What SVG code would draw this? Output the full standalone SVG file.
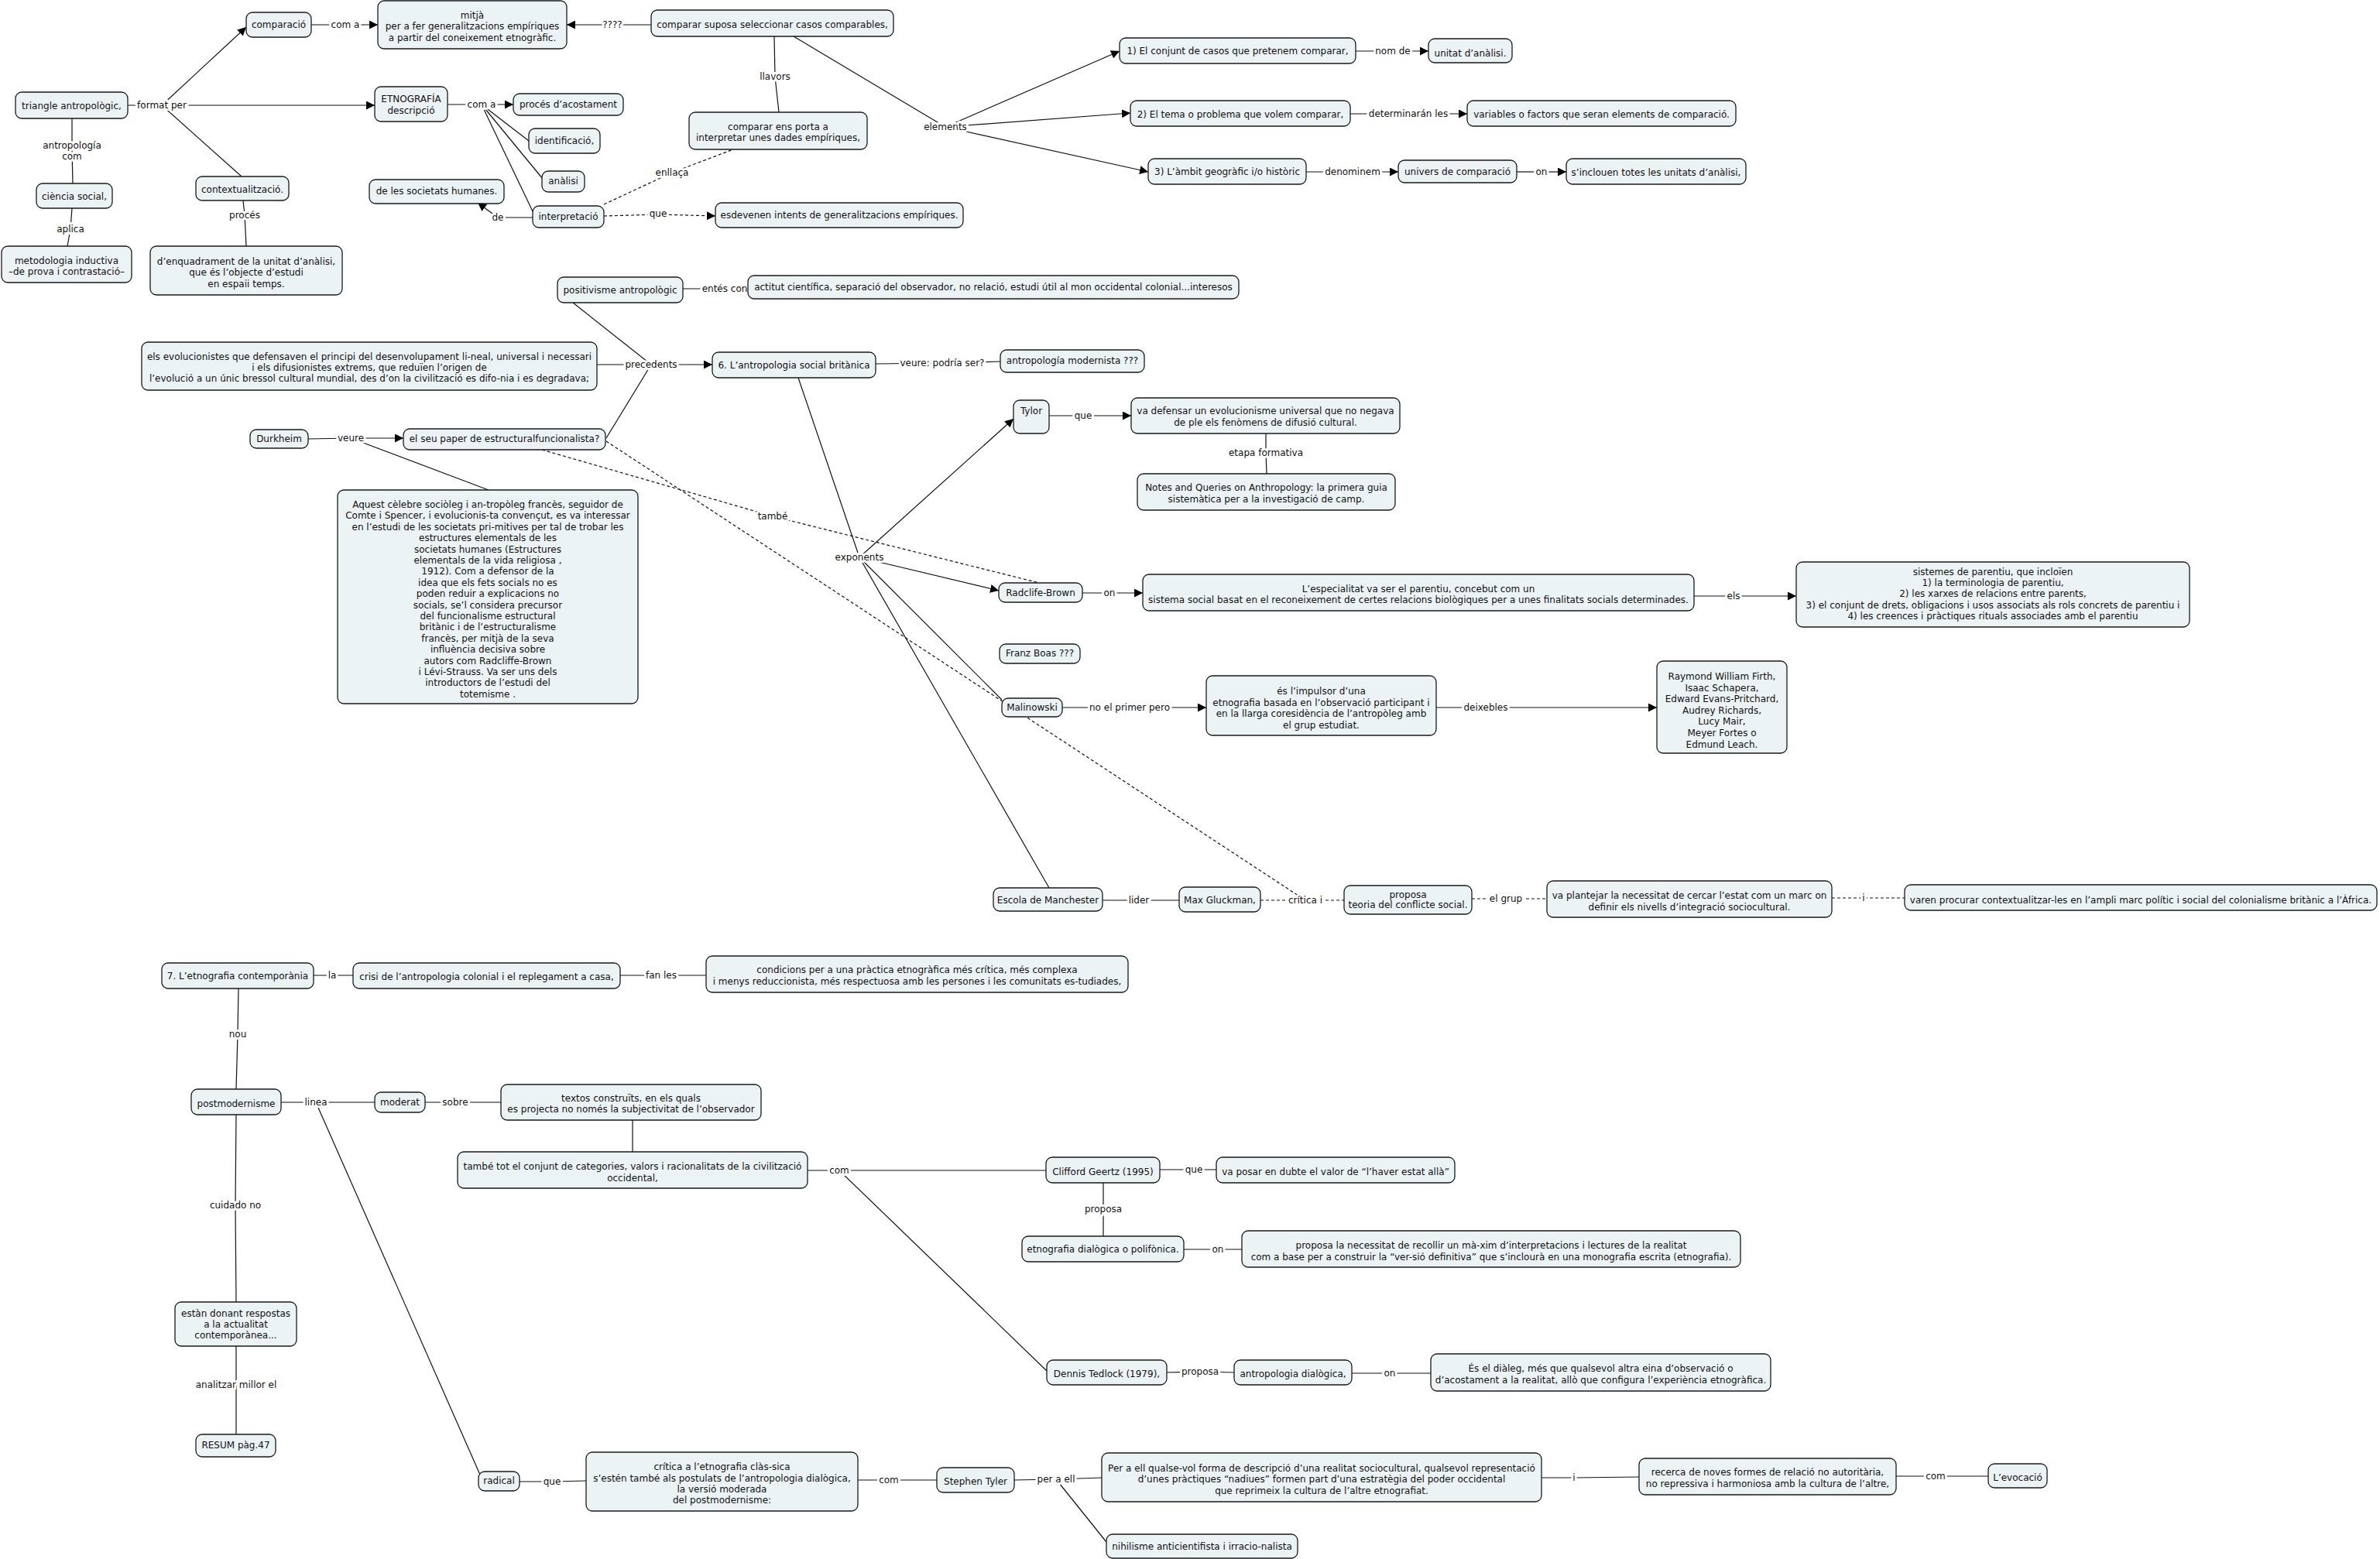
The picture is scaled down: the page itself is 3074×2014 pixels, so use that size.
<svg xmlns="http://www.w3.org/2000/svg" width="3074" height="2014" viewBox="0 0 3074 2014">
<defs>
<style>
text{font-family:"DejaVu Sans",Verdana,sans-serif;font-size:12px;fill:#111}
.n rect{fill:#ecf3f5;stroke:#1a1a1a;stroke-width:1.3}
.n text{text-anchor:middle}
.c path{stroke:#111;stroke-width:1.2;fill:none}
.c path.d{stroke-dasharray:4 3}
.c path.a{marker-end:url(#ar)}
.c text{text-anchor:middle;paint-order:stroke;stroke:#fff;stroke-width:6px;stroke-linejoin:round}
</style>
<marker id="ar" viewBox="0 0 10 10" refX="10" refY="5" markerWidth="11" markerHeight="11" markerUnits="userSpaceOnUse" orient="auto"><path d="M0,0 L10,5 L0,10 z" fill="#000"/></marker>
</defs>
<rect width="3074" height="2014" fill="#fff"/>
<g id="connectors" class="c">
<path d="M165,136 L209,136"/>
<path class="a" d="M209,136 L318,35"/>
<path class="a" d="M209,136 L484,136"/>
<path d="M209,136 L312,228"/>
<path d="M93,153 L93,195 L94,237"/>
<path d="M93,269 L91,296 L87,318"/>
<path d="M314,259 L316,278 L318,318"/>
<path d="M402,32 L446,32"/><path class="a" d="M446,32 L488,32"/>
<path d="M841,32 L791,32"/><path class="a" d="M791,32 L732,32"/>
<path d="M578,135 L622,135"/><path class="a" d="M622,135 L663,135"/>
<path d="M622,135 L683,182"/><path d="M622,135 L701,231"/><path d="M622,135 L688,273"/>
<path d="M688,281 L643,281"/><path class="a" d="M643,281 L617,262"/>
<path d="M1000,47 L1001,99 L1006,145"/>
<path d="M1025,47 L1221,164"/>
<path class="a" d="M1221,164 L1446,66"/><path class="a" d="M1221,164 L1460,146"/><path class="a" d="M1221,164 L1483,222"/>
<path class="d" d="M780,264 L868,223 L947,193"/>
<path class="d" d="M780,279 L850,277"/><path class="d a" d="M850,277 L924,279"/>
<path d="M1751,66 L1799,66"/><path class="a" d="M1799,66 L1845,66"/>
<path d="M1744,147 L1819,147"/><path class="a" d="M1819,147 L1895,147"/>
<path d="M1687,222 L1747,222"/><path class="a" d="M1747,222 L1806,222"/>
<path d="M1959,222 L1991,222"/><path class="a" d="M1991,222 L2023,222"/>
<path d="M882,373 L936,373 L966,371"/>
<path d="M740,391 L841,471"/>
<path d="M771,471 L841,471"/>
<path d="M783,566 L841,471"/>
<path class="a" d="M841,471 L920,471"/>
<path d="M1131,470 L1217,469 L1292,467"/>
<path d="M398,567 L453,566"/><path class="a" d="M453,566 L521,566"/>
<path d="M453,566 L631,633"/>
<path class="d" d="M700,581 L998,667 L1342,753"/>
<path class="d" d="M783,570 L1686,1163"/>
<path d="M1031,488 L1110,720 L1355,1147"/>
<path class="a" d="M1110,720 L1309,541"/>
<path class="a" d="M1110,720 L1290,763"/>
<path d="M1110,720 L1294,904"/>
<path d="M1355,537 L1399,537"/><path class="a" d="M1399,537 L1461,537"/>
<path d="M1635,560 L1635,585 L1636,612"/>
<path d="M1398,766 L1433,766"/><path class="a" d="M1433,766 L1476,766"/>
<path d="M2188,770 L2239,770"/><path class="a" d="M2239,770 L2320,770"/>
<path d="M1372,914 L1459,914"/><path class="a" d="M1459,914 L1558,914"/>
<path d="M1855,914 L1919,914"/><path class="a" d="M1919,914 L2140,914"/>
<path d="M1424,1163 L1471,1163 L1523,1163"/>
<path class="d" d="M1628,1163 L1686,1163 L1736,1163"/>
<path class="d" d="M1901,1161 L1945,1161 L1998,1161"/>
<path class="d" d="M2366,1160 L2407,1160 L2460,1160"/>
<path d="M405,1260 L429,1260 L456,1260"/>
<path d="M801,1260 L854,1260 L912,1260"/>
<path d="M308,1277 L307,1336 L305,1407"/>
<path d="M363,1424 L408,1424 L484,1424"/>
<path d="M549,1424 L588,1424 L647,1424"/>
<path d="M817,1447 L817,1488"/>
<path d="M1043,1512 L1084,1512 L1351,1512"/>
<path d="M1084,1512 L1352,1771"/>
<path d="M1498,1511 L1542,1511 L1571,1511"/>
<path d="M1425,1528 L1425,1562 L1425,1597"/>
<path d="M1529,1614 L1573,1614 L1604,1614"/>
<path d="M1507,1773 L1550,1772 L1594,1773"/>
<path d="M1746,1774 L1795,1774 L1848,1774"/>
<path d="M305,1440 L304,1557 L305,1682"/>
<path d="M305,1739 L305,1789 L305,1853"/>
<path d="M408,1424 L620,1905"/>
<path d="M671,1914 L713,1914 L757,1913"/>
<path d="M1108,1912 L1148,1912 L1210,1912"/>
<path d="M1310,1912 L1364,1911 L1423,1909"/>
<path d="M1364,1911 L1429,1992"/>
<path d="M1991,1909 L2033,1909 L2117,1908"/>
<path d="M2449,1907 L2500,1907 L2568,1907"/>
<text x="209" y="140">format per</text>
<text x="93" y="192">antropología</text><text x="93" y="206">com</text>
<text x="91" y="300">aplica</text>
<text x="316" y="282">procés</text>
<text x="446" y="36">com a</text>
<text x="791" y="36">????</text>
<text x="622" y="139">com a</text>
<text x="643" y="285">de</text>
<text x="1001" y="103">llavors</text>
<text x="1221" y="168">elements</text>
<text x="868" y="227">enllaça</text>
<text x="850" y="280">que</text>
<text x="1799" y="70">nom de</text>
<text x="1819" y="151">determinarán les</text>
<text x="1747" y="226">denominem</text>
<text x="1991" y="226">on</text>
<text x="936" y="377">entés con</text>
<text x="841" y="475">precedents</text>
<text x="1217" y="473">veure: podría ser?</text>
<text x="453" y="570">veure</text>
<text x="998" y="671">també</text>
<text x="1110" y="724">exponents</text>
<text x="1399" y="541">que</text>
<text x="1635" y="589">etapa formativa</text>
<text x="1433" y="770">on</text>
<text x="2239" y="774">els</text>
<text x="1459" y="918">no el primer pero</text>
<text x="1919" y="918">deixebles</text>
<text x="1471" y="1167">lider</text>
<text x="1686" y="1167">crítica i</text>
<text x="1945" y="1165">el grup</text>
<text x="2407" y="1164">i</text>
<text x="429" y="1264">la</text>
<text x="854" y="1264">fan les</text>
<text x="307" y="1340">nou</text>
<text x="408" y="1428">linea</text>
<text x="588" y="1428">sobre</text>
<text x="1084" y="1516">com</text>
<text x="1542" y="1515">que</text>
<text x="1425" y="1566">proposa</text>
<text x="1573" y="1618">on</text>
<text x="1550" y="1776">proposa</text>
<text x="1795" y="1778">on</text>
<text x="304" y="1561">cuidado no</text>
<text x="305" y="1793">analitzar millor el</text>
<text x="713" y="1918">que</text>
<text x="1148" y="1916">com</text>
<text x="1364" y="1915">per a ell</text>
<text x="2033" y="1913">i</text>
<text x="2500" y="1911">com</text>
</g>
<g id="nodes" class="n">
<g id="n1"><rect x="318" y="16" width="84" height="32" rx="8"/><text x="360" y="36">comparació</text></g>
<g id="n2"><rect x="488" y="1" width="244" height="62" rx="8"/><text x="610" y="24">mitjà</text><text x="610" y="38">per a fer generalitzacions empíriques</text><text x="610" y="53">a partir del coneixement etnogràfic.</text></g>
<g id="n3"><rect x="20" y="119" width="145" height="34" rx="8"/><text x="92.5" y="141">triangle antropològic,</text></g>
<g id="n4"><rect x="484" y="112" width="94" height="45" rx="8"/><text x="531" y="132">ETNOGRAFÍA</text><text x="531" y="147">descripció</text></g>
<g id="n5"><rect x="663" y="121" width="142" height="28" rx="8"/><text x="734" y="139">procés d’acostament</text></g>
<g id="n6"><rect x="683" y="166" width="92" height="32" rx="8"/><text x="729" y="186">identificació,</text></g>
<g id="n7"><rect x="700" y="221" width="55" height="27" rx="8"/><text x="727.5" y="238">anàlisi</text></g>
<g id="n8"><rect x="477" y="232" width="174" height="31" rx="8"/><text x="564" y="251">de les societats humanes.</text></g>
<g id="n9"><rect x="688" y="266" width="92" height="28" rx="8"/><text x="734" y="284">interpretació</text></g>
<g id="n10"><rect x="2" y="318" width="168" height="47" rx="8"/><text x="86" y="341">metodologia inductiva</text><text x="86" y="355">–de prova i contrastació–</text></g>
<g id="n11"><rect x="47" y="237" width="98" height="32" rx="8"/><text x="96" y="258">ciència social,</text></g>
<g id="n12"><rect x="253" y="228" width="120" height="31" rx="8"/><text x="313" y="249">contextualització.</text></g>
<g id="n13"><rect x="194" y="318" width="248" height="63" rx="8"/><text x="318" y="342">d’enquadrament de la unitat d’anàlisi,</text><text x="318" y="356">que és l’objecte d’estudi</text><text x="318" y="371">en espaii temps.</text></g>
<g id="n14"><rect x="841" y="13" width="313" height="34" rx="8"/><text x="997.5" y="36">comparar suposa seleccionar casos comparables,</text></g>
<g id="n15"><rect x="890" y="145" width="230" height="48" rx="8"/><text x="1005" y="168">comparar ens porta a</text><text x="1005" y="182">interpretar unes dades empíriques,</text></g>
<g id="n16"><rect x="1446" y="49" width="305" height="33" rx="8"/><text x="1598.5" y="70">1) El conjunt de casos que pretenem comparar,</text></g>
<g id="n17"><rect x="1845" y="50" width="108" height="31" rx="8"/><text x="1899" y="73">unitat d’anàlisi.</text></g>
<g id="n18"><rect x="1460" y="130" width="284" height="33" rx="8"/><text x="1602" y="152">2) El tema o problema que volem comparar,</text></g>
<g id="n19"><rect x="1895" y="130" width="347" height="33" rx="8"/><text x="2068.5" y="152">variables o factors que seran elements de comparació.</text></g>
<g id="n20"><rect x="1483" y="205" width="204" height="33" rx="8"/><text x="1585" y="226">3) L’àmbit geogràfic i/o històric</text></g>
<g id="n21"><rect x="1806" y="207" width="153" height="29" rx="8"/><text x="1882.5" y="226">univers de comparació</text></g>
<g id="n22"><rect x="2023" y="205" width="232" height="33" rx="8"/><text x="2139" y="227">s’inclouen totes les unitats d’anàlisi,</text></g>
<g id="n23"><rect x="924" y="262" width="320" height="32" rx="8"/><text x="1084" y="282">esdevenen intents de generalitzacions empíriques.</text></g>
<g id="n24"><rect x="720" y="358" width="162" height="33" rx="8"/><text x="801" y="379">positivisme antropològic</text></g>
<g id="n25"><rect x="966" y="356" width="634" height="30" rx="8"/><text x="1283" y="375">actitut científica, separació del observador, no relació, estudi útil al mon occidental colonial...interesos</text></g>
<g id="n26"><rect x="183" y="442" width="588" height="62" rx="8"/><text x="477" y="465">els evolucionistes que defensaven el principi del desenvolupament li-neal, universal i necessari</text><text x="477" y="479">i els difusionistes extrems, que reduïen l’origen de</text><text x="477" y="493">l’evolució a un únic bressol cultural mundial, des d’on la civilització es difo-nia i es degradava;</text></g>
<g id="n27"><rect x="920" y="455" width="211" height="33" rx="8"/><text x="1025.5" y="476">6. L’antropologia social britànica</text></g>
<g id="n28"><rect x="1292" y="452" width="186" height="29" rx="8"/><text x="1385" y="470">antropología modernista ???</text></g>
<g id="n29"><rect x="323" y="555" width="75" height="24" rx="8"/><text x="360.5" y="571">Durkheim</text></g>
<g id="n30"><rect x="521" y="554" width="261" height="27" rx="8"/><text x="651.5" y="571">el seu paper de estructuralfuncionalista?</text></g>
<g id="n31"><rect x="436" y="633" width="388" height="276" rx="8"/>
<text x="630" y="656">Aquest cèlebre sociòleg i an-tropòleg francès, seguidor de</text>
<text x="630" y="670.4">Comte i Spencer, i evolucionis-ta convençut, es va interessar</text>
<text x="630" y="684.8">en l’estudi de les societats pri-mitives per tal de trobar les</text>
<text x="630" y="699.2">estructures elementals de les</text>
<text x="630" y="713.6">societats humanes (Estructures</text>
<text x="630" y="728">elementals de la vida religiosa ,</text>
<text x="630" y="742.4">1912). Com a defensor de la</text>
<text x="630" y="756.8">idea que els fets socials no es</text>
<text x="630" y="771.2">poden reduir a explicacions no</text>
<text x="630" y="785.6">socials, se’l considera precursor</text>
<text x="630" y="800">del funcionalisme estructural</text>
<text x="630" y="814.4">britànic i de l’estructuralisme</text>
<text x="630" y="828.8">francès, per mitjà de la seva</text>
<text x="630" y="843.2">influència decisiva sobre</text>
<text x="630" y="857.6">autors com Radcliffe-Brown</text>
<text x="630" y="872">i Lévi-Strauss. Va ser uns dels</text>
<text x="630" y="886.4">introductors de l’estudi del</text>
<text x="630" y="900.8">totemisme .</text></g>
<g id="n32"><rect x="1309" y="517" width="46" height="43" rx="8"/><text x="1332" y="535">Tylor</text></g>
<g id="n33"><rect x="1461" y="514" width="347" height="46" rx="8"/><text x="1634.5" y="535">va defensar un evolucionisme universal que no negava</text><text x="1634.5" y="550">de ple els fenòmens de difusió cultural.</text></g>
<g id="n34"><rect x="1469" y="612" width="333" height="47" rx="8"/><text x="1635.5" y="634">Notes and Queries on Anthropology: la primera guia</text><text x="1635.5" y="649">sistemàtica per a la investigació de camp.</text></g>
<g id="n35"><rect x="1290" y="753" width="108" height="25" rx="8"/><text x="1344" y="770">Radclife-Brown</text></g>
<g id="n36"><rect x="1476" y="742" width="712" height="47" rx="8"/><text x="1832" y="765">L’especialitat va ser el parentiu, concebut com un</text><text x="1832" y="779">sistema social basat en el reconeixement de certes relacions biològiques per a unes finalitats socials determinades.</text></g>
<g id="n37"><rect x="2320" y="726" width="508" height="84" rx="8"/><text x="2574" y="743">sistemes de parentiu, que incloïen</text><text x="2574" y="757">1) la terminologia de parentiu,</text><text x="2574" y="771">2) les xarxes de relacions entre parents,</text><text x="2574" y="786">3) el conjunt de drets, obligacions i usos associats als rols concrets de parentiu i</text><text x="2574" y="800">4) les creences i pràctiques rituals associades amb el parentiu</text></g>
<g id="n38"><rect x="1291" y="832" width="104" height="25" rx="8"/><text x="1343" y="848">Franz Boas ???</text></g>
<g id="n39"><rect x="1294" y="902" width="78" height="24" rx="8"/><text x="1333" y="918">Malinowski</text></g>
<g id="n40"><rect x="1558" y="873" width="297" height="77" rx="8"/><text x="1706.5" y="897">és l’impulsor d’una</text><text x="1706.5" y="912">etnografia basada en l’observació participant i</text><text x="1706.5" y="926">en la llarga coresidència de l’antropòleg amb</text><text x="1706.5" y="941">el grup estudiat.</text></g>
<g id="n41"><rect x="2140" y="854" width="168" height="119" rx="8"/><text x="2224" y="878">Raymond William Firth,</text><text x="2224" y="892.6">Isaac Schapera,</text><text x="2224" y="907.2">Edward Evans-Pritchard,</text><text x="2224" y="921.8">Audrey Richards,</text><text x="2224" y="936.4">Lucy Mair,</text><text x="2224" y="951">Meyer Fortes o</text><text x="2224" y="965.6">Edmund Leach.</text></g>
<g id="n42"><rect x="1283" y="1147" width="141" height="30" rx="8"/><text x="1353.5" y="1167">Escola de Manchester</text></g>
<g id="n43"><rect x="1523" y="1146" width="105" height="32" rx="8"/><text x="1575.5" y="1167">Max Gluckman,</text></g>
<g id="n44"><rect x="1736" y="1144" width="165" height="37" rx="8"/><text x="1818.5" y="1160">proposa</text><text x="1818.5" y="1173">teoria del conflicte social.</text></g>
<g id="n45"><rect x="1998" y="1138" width="368" height="47" rx="8"/><text x="2182" y="1161">va plantejar la necessitat de cercar l’estat com un marc on</text><text x="2182" y="1176">definir els nivells d’integració sociocultural.</text></g>
<g id="n46"><rect x="2460" y="1143" width="610" height="33" rx="8"/><text x="2765" y="1167">varen procurar contextualitzar-les en l’ampli marc polític i social del colonialisme britànic a l’Àfrica.</text></g>
<g id="n47"><rect x="209" y="1244" width="196" height="33" rx="8"/><text x="307" y="1265">7. L’etnografia contemporània</text></g>
<g id="n48"><rect x="456" y="1244" width="345" height="33" rx="8"/><text x="628.5" y="1266">crisi de l’antropologia colonial i el replegament a casa,</text></g>
<g id="n49"><rect x="912" y="1235" width="545" height="47" rx="8"/><text x="1184.5" y="1257">condicions per a una pràctica etnogràfica més crítica, més complexa</text><text x="1184.5" y="1272">i menys reduccionista, més respectuosa amb les persones i les comunitats es-tudiades,</text></g>
<g id="n50"><rect x="247" y="1407" width="116" height="33" rx="8"/><text x="305" y="1430">postmodernisme</text></g>
<g id="n51"><rect x="484" y="1411" width="65" height="26" rx="8"/><text x="516.5" y="1428">moderat</text></g>
<g id="n52"><rect x="647" y="1401" width="336" height="46" rx="8"/><text x="815" y="1423">textos construïts, en els quals</text><text x="815" y="1437">es projecta no només la subjectivitat de l’observador</text></g>
<g id="n53"><rect x="591" y="1488" width="452" height="47" rx="8"/><text x="817" y="1511">també tot el conjunt de categories, valors i racionalitats de la civilització</text><text x="817" y="1526">occidental,</text></g>
<g id="n54"><rect x="1351" y="1495" width="147" height="33" rx="8"/><text x="1424.5" y="1518">Clifford Geertz (1995)</text></g>
<g id="n55"><rect x="1571" y="1495" width="308" height="33" rx="8"/><text x="1725" y="1518">va posar en dubte el valor de “l’haver estat allà”</text></g>
<g id="n56"><rect x="1320" y="1597" width="209" height="33" rx="8"/><text x="1424.5" y="1618">etnografia dialògica o polifònica.</text></g>
<g id="n57"><rect x="1604" y="1590" width="644" height="47" rx="8"/><text x="1926" y="1613">proposa la necessitat de recollir un mà-xim d’interpretacions i lectures de la realitat</text><text x="1926" y="1628">com a base per a construir la “ver-sió definitiva” que s’inclourà en una monografia escrita (etnografia).</text></g>
<g id="n58"><rect x="1352" y="1757" width="155" height="32" rx="8"/><text x="1429.5" y="1779">Dennis Tedlock (1979),</text></g>
<g id="n59"><rect x="1594" y="1757" width="152" height="32" rx="8"/><text x="1670" y="1779">antropologia dialògica,</text></g>
<g id="n60"><rect x="1848" y="1749" width="439" height="48" rx="8"/><text x="2067.5" y="1772">És el diàleg, més que qualsevol altra eina d’observació o</text><text x="2067.5" y="1787">d’acostament a la realitat, allò que configura l’experiència etnogràfica.</text></g>
<g id="n61"><rect x="226" y="1682" width="157" height="57" rx="8"/><text x="304.5" y="1701">estàn donant respostas</text><text x="304.5" y="1715">a la actualitat</text><text x="304.5" y="1729">contemporànea...</text></g>
<g id="n62"><rect x="253" y="1853" width="103" height="29" rx="8"/><text x="304.5" y="1871">RESUM pàg.47</text></g>
<g id="n63"><rect x="618" y="1901" width="53" height="25" rx="8"/><text x="644.5" y="1917">radical</text></g>
<g id="n64"><rect x="757" y="1876" width="351" height="76" rx="8"/><text x="932.5" y="1899">crítica a l’etnografia clàs-sica</text><text x="932.5" y="1914">s’estén també als postulats de l’antropologia dialògica,</text><text x="932.5" y="1928">la versió moderada</text><text x="932.5" y="1942">del postmodernisme:</text></g>
<g id="n65"><rect x="1210" y="1896" width="100" height="32" rx="8"/><text x="1260" y="1918">Stephen Tyler</text></g>
<g id="n66"><rect x="1423" y="1877" width="568" height="63" rx="8"/><text x="1707" y="1901">Per a ell qualse-vol forma de descripció d’una realitat sociocultural, qualsevol representació</text><text x="1707" y="1915">d’unes pràctiques “nadiues” formen part d’una estratègia del poder occidental</text><text x="1707" y="1930">que reprimeix la cultura de l’altre etnografiat.</text></g>
<g id="n67"><rect x="2117" y="1884" width="332" height="47" rx="8"/><text x="2283" y="1906">recerca de noves formes de relació no autoritària,</text><text x="2283" y="1921">no repressiva i harmoniosa amb la cultura de l’altre,</text></g>
<g id="n68"><rect x="2568" y="1891" width="76" height="31" rx="8"/><text x="2606" y="1913">L’evocació</text></g>
<g id="n69"><rect x="1429" y="1982" width="247" height="31" rx="8"/><text x="1552.5" y="2002">nihilisme anticientifista i irracio-nalista</text></g>
</g>
</svg>
